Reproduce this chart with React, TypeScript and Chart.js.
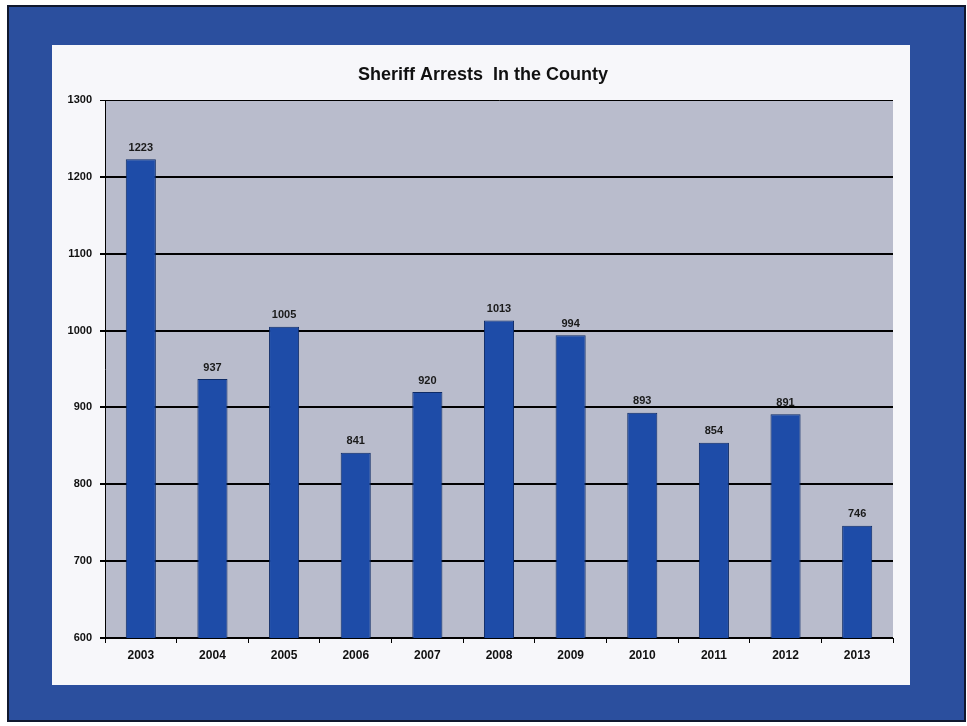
import React, { useEffect, useRef } from "react";
import { Chart, registerables } from "chart.js";

Chart.register(...registerables);

const years = ["2003", "2004", "2005", "2006", "2007", "2008", "2009", "2010", "2011", "2012", "2013"];
const arrests = [1223, 937, 1005, 841, 920, 1013, 994, 893, 854, 891, 746];
const yMin = 600;
const yMax = 1300;
const yStep = 100;
const chartTitle = "Sheriff Arrests  In the County";

const FONT = "Arial, 'Liberation Sans', sans-serif";

const plotBg = {
  id: "plotBg",
  beforeDraw(chart: any) {
    const { ctx, chartArea } = chart;
    ctx.save();
    ctx.fillStyle = "#b9bccc";
    ctx.fillRect(chartArea.left, chartArea.top, chartArea.right - chartArea.left, chartArea.bottom - chartArea.top);
    ctx.restore();
  },
};

const titlePlugin = {
  id: "titleText",
  afterDraw(chart: any) {
    const { ctx, chartArea } = chart;
    ctx.save();
    ctx.font = "bold 18px " + FONT;
    ctx.fillStyle = "#111";
    ctx.textAlign = "center";
    ctx.textBaseline = "middle";
    ctx.fillText(chartTitle, (chartArea.left + chartArea.right) / 2 - 16, 30);
    ctx.restore();
  },
};

const valueLabels = {
  id: "valueLabels",
  afterDatasetsDraw(chart: any) {
    const { ctx } = chart;
    const meta = chart.getDatasetMeta(0);
    ctx.save();
    ctx.font = "bold 11px " + FONT;
    ctx.fillStyle = "#1a1a1a";
    ctx.textAlign = "center";
    ctx.textBaseline = "bottom";
    meta.data.forEach((bar: any, i: number) => {
      ctx.fillText(String(arrests[i]), bar.x, bar.y - 6);
    });
    ctx.restore();
  },
};

export default function App() {
  const ref = useRef<HTMLCanvasElement | null>(null);

  useEffect(() => {
    if (!ref.current) return;
    const chart = new Chart(ref.current, {
      type: "bar",
      data: {
        labels: years,
        datasets: [
          {
            data: arrests,
            backgroundColor: "#1e4ca8",
            borderColor: "#0d2a66",
            borderWidth: 1,
            categoryPercentage: 1,
            barPercentage: 0.42,
          },
        ],
      },
      options: {
        animation: false,
        responsive: false,
        maintainAspectRatio: false,
        layout: { padding: { left: 0, right: 17, top: 55, bottom: 0 } },
        plugins: {
          legend: { display: false },
          tooltip: { enabled: false },
          title: { display: false },
        },
        scales: {
          x: {
            afterFit(scale: any) {
              scale.height = 47;
            },
            grid: {
              offset: true,
              drawOnChartArea: false,
              drawTicks: true,
              tickLength: 5,
              color: "#000",
            },
            border: { display: true, color: "#000", width: 1 },
            ticks: {
              color: "#111",
              padding: 5,
              font: { family: FONT, size: 12, weight: "bold" },
            },
          },
          y: {
            min: yMin,
            max: yMax,
            afterFit(scale: any) {
              scale.width = 53;
            },
            grid: {
              color: "#000",
              lineWidth: (c: any) => (c.tick && c.tick.value === yMax ? 1 : 2),
              drawTicks: true,
              tickLength: 5,
            },
            border: { display: true, color: "#000", width: 1 },
            ticks: {
              stepSize: yStep,
              color: "#111",
              padding: 8,
              font: { family: FONT, size: 11, weight: "bold" },
              callback: (v: any) => String(v),
            },
          },
        },
      },
      plugins: [plotBg, valueLabels, titlePlugin],
    });
    return () => chart.destroy();
  }, []);

  return (
    <div style={{ position: "absolute", left: 0, top: 0, width: 967, height: 726, background: "#ffffff" }}>
      <div
        style={{
          position: "absolute",
          left: 7,
          top: 5,
          width: 955,
          height: 713,
          background: "#2b4f9e",
          border: "2px solid #10182e",
        }}
      />
      <div
        style={{
          position: "absolute",
          left: 52,
          top: 45,
          width: 858,
          height: 640,
          background: "#f7f7fa",
        }}
      >
        <canvas ref={ref} width={858} height={640} style={{ display: "block" }} />
      </div>
    </div>
  );
}
